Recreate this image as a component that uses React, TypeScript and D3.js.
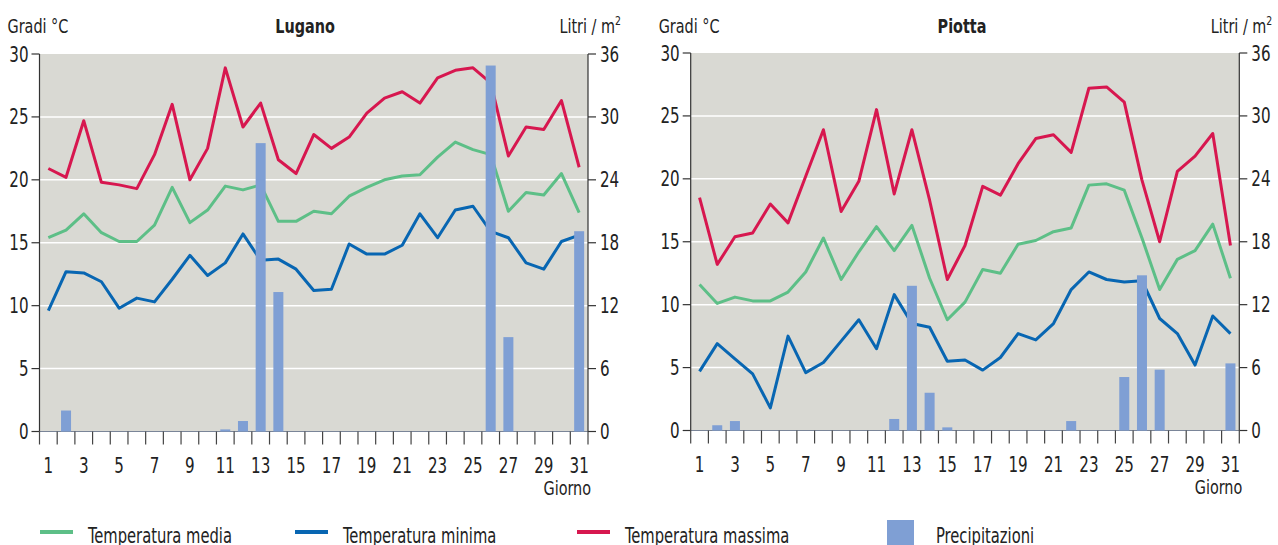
import React from "react";
import * as d3 from "d3";

const days = [1, 2, 3, 4, 5, 6, 7, 8, 9, 10, 11, 12, 13, 14, 15, 16, 17, 18, 19, 20, 21, 22, 23, 24, 25, 26, 27, 28, 29, 30, 31];
const dayLabels = [1, 3, 5, 7, 9, 11, 13, 15, 17, 19, 21, 23, 25, 27, 29, 31];
const tempTicks = [0, 5, 10, 15, 20, 25, 30];
const rainTicks = [0, 6, 12, 18, 24, 30, 36];

const luganoMax = [20.9, 20.2, 24.7, 19.8, 19.6, 19.3, 22.0, 26.0, 20.0, 22.5, 28.9, 24.2, 26.1, 21.6, 20.5, 23.6, 22.5, 23.4, 25.3, 26.5, 27.0, 26.1, 28.1, 28.7, 28.9, 27.7, 21.9, 24.2, 24.0, 26.3, 21.0];
const luganoMean = [15.4, 16.0, 17.3, 15.8, 15.1, 15.1, 16.4, 19.4, 16.6, 17.6, 19.5, 19.2, 19.6, 16.7, 16.7, 17.5, 17.3, 18.7, 19.4, 20.0, 20.3, 20.4, 21.8, 23.0, 22.4, 22.0, 17.5, 19.0, 18.8, 20.5, 17.4];
const luganoMin = [9.6, 12.7, 12.6, 11.9, 9.8, 10.6, 10.3, 12.1, 14.0, 12.4, 13.4, 15.7, 13.6, 13.7, 12.9, 11.2, 11.3, 14.9, 14.1, 14.1, 14.8, 17.3, 15.4, 17.6, 17.9, 15.9, 15.4, 13.4, 12.9, 15.1, 15.6];
const luganoRain = [0, 2.0, 0, 0, 0, 0, 0, 0, 0, 0, 0.2, 1.0, 27.5, 13.3, 0, 0, 0, 0, 0, 0, 0, 0, 0, 0, 0, 34.9, 9.0, 0, 0, 0, 19.1];

const piottaMax = [18.5, 13.2, 15.4, 15.7, 18.0, 16.5, 20.2, 23.9, 17.4, 19.8, 25.5, 18.8, 23.9, 18.3, 12.0, 14.7, 19.4, 18.7, 21.2, 23.2, 23.5, 22.1, 27.2, 27.3, 26.1, 19.9, 15.0, 20.6, 21.8, 23.6, 14.7];
const piottaMean = [11.6, 10.1, 10.6, 10.3, 10.3, 11.0, 12.6, 15.3, 12.0, 14.2, 16.2, 14.3, 16.3, 12.1, 8.8, 10.2, 12.8, 12.5, 14.8, 15.1, 15.8, 16.1, 19.5, 19.6, 19.1, 15.3, 11.2, 13.6, 14.3, 16.4, 12.1];
const piottaMin = [4.7, 6.9, 5.7, 4.5, 1.8, 7.5, 4.6, 5.4, 7.1, 8.8, 6.5, 10.8, 8.5, 8.2, 5.5, 5.6, 4.8, 5.8, 7.7, 7.2, 8.5, 11.2, 12.6, 12.0, 11.8, 11.9, 8.9, 7.7, 5.2, 9.1, 7.7];
const piottaRain = [0, 0.5, 0.9, 0, 0, 0, 0, 0, 0, 0, 0, 1.1, 13.8, 3.6, 0.3, 0, 0, 0, 0, 0, 0, 0.9, 0, 0, 5.1, 14.8, 5.8, 0, 0, 0, 6.4];

const FONT = "'DejaVu Sans Condensed', 'Liberation Sans Narrow', 'Roboto Condensed', sans-serif";
const C_MEAN = "#5dbf87";
const C_MIN = "#0866b2";
const C_MAX = "#d7174f";
const C_BAR = "#7f9fd4";
const C_BG = "#d9d9d3";
const TXT = "#222";
const SX = 0.8;

type TProps = {
  x: number;
  y: number;
  anchor?: "start" | "middle" | "end";
  size: number;
  bold?: boolean;
  dy?: string;
  sx?: number;
  children: React.ReactNode;
};

function T({ x, y, anchor = "start", size, bold, dy, sx = SX, children }: TProps) {
  return (
    <text
      transform={`translate(${x},${y}) scale(${sx},1)`}
      textAnchor={anchor}
      fontSize={size}
      fontWeight={bold ? "bold" : "normal"}
      dy={dy}
      fill={TXT}
    >
      {children}
    </text>
  );
}

type PanelProps = {
  title: string;
  titleX: number;
  x0: number;
  x1: number;
  top: number;
  bottom: number;
  max: number[];
  mean: number[];
  min: number[];
  rain: number[];
};

function Panel({ title, titleX, x0, x1, top, bottom, max, mean, min, rain }: PanelProps) {
  const x = d3.scaleBand<number>().domain(days).range([x0, x1]).padding(0);
  const bw = x.bandwidth();
  const cx = (d: number) => (x(d) as number) + bw / 2;
  const yT = d3.scaleLinear().domain([0, 30]).range([bottom, top]);
  const yR = d3.scaleLinear().domain([0, 36]).range([bottom, top]);
  const line = (vals: number[]) =>
    d3.line<number>().x((_, i) => cx(days[i])).y((v) => yT(v))(vals) || "";
  const boundaries = days.map((d) => x(d) as number).concat([x1]);
  const barW = 10;

  return (
    <g>
      <rect x={x0} y={top} width={x1 - x0} height={bottom - top} fill={C_BG} />
      {tempTicks.filter((t) => t > 0 && t < 30).map((t) => (
        <line key={t} x1={x0} x2={x1} y1={yT(t)} y2={yT(t)} stroke="#fff" strokeWidth={1.5} />
      ))}
      <line x1={x0} x2={x1} y1={bottom} y2={bottom} stroke="#7a8598" strokeWidth={1.2} />
      <path d={line(mean)} fill="none" stroke={C_MEAN} strokeWidth={3} strokeLinejoin="round" />
      <path d={line(min)} fill="none" stroke={C_MIN} strokeWidth={3} strokeLinejoin="round" />
      <path d={line(max)} fill="none" stroke={C_MAX} strokeWidth={3} strokeLinejoin="round" />
      {rain.map((r, i) =>
        r > 0 ? (
          <rect key={i} x={cx(days[i]) - barW / 2} y={yR(r)} width={barW} height={bottom - yR(r)} fill={C_BAR} />
        ) : null
      )}
      {/* left axis */}
      <line x1={x0} x2={x0} y1={top} y2={bottom} stroke="#333" strokeWidth={1.2} />
      {tempTicks.map((t) => (
        <g key={t}>
          <line x1={x0 - 8} x2={x0} y1={yT(t)} y2={yT(t)} stroke="#333" strokeWidth={1.2} />
          <T x={x0 - 11} y={yT(t)} dy="0.36em" anchor="end" size={21}>{t}</T>
        </g>
      ))}
      {/* right axis */}
      <line x1={x1} x2={x1} y1={top} y2={bottom} stroke="#333" strokeWidth={1.2} />
      {rainTicks.map((t) => (
        <g key={t}>
          <line x1={x1} x2={x1 + 8} y1={yR(t)} y2={yR(t)} stroke="#333" strokeWidth={1.2} />
          <T x={x1 + 12} y={yR(t)} dy="0.36em" anchor="start" size={21}>{t}</T>
        </g>
      ))}
      {/* bottom ticks */}
      {boundaries.map((b, i) => (
        <line key={i} x1={b} x2={b} y1={bottom} y2={bottom + 13} stroke="#444" strokeWidth={1.2} />
      ))}
      {dayLabels.map((d) => (
        <T key={d} x={cx(d)} y={bottom + 41} anchor="middle" size={21}>{d}</T>
      ))}
      <T x={x1 + 3} y={bottom + 63} anchor="end" size={20}>Giorno</T>
      {/* headers */}
      <T x={x0 - 32} y={33} anchor="start" size={20}>Gradi °C</T>
      <T x={titleX} y={33} anchor="middle" size={20} bold>{title}</T>
      <T x={x1 + 33} y={33} anchor="end" size={20}>
        Litri / m<tspan fontSize={13} dy={-8}>2</tspan>
      </T>
    </g>
  );
}

const legendItems = [
  { label: "Temperatura media", color: C_MEAN, kind: "line", x: 40 },
  { label: "Temperatura minima", color: C_MIN, kind: "line", x: 295 },
  { label: "Temperatura massima", color: C_MAX, kind: "line", x: 577 },
  { label: "Precipitazioni", color: C_BAR, kind: "rect", x: 887 },
];

export default function App() {
  return (
    <div style={{ position: "absolute", left: 0, top: 0 }}>
      <svg width={1278} height={545} style={{ display: "block", background: "#fff", fontFamily: FONT }}>
        <Panel title="Lugano" titleX={305} x0={39.5} x1={588} top={54} bottom={431.5}
          max={luganoMax} mean={luganoMean} min={luganoMin} rain={luganoRain} />
        <Panel title="Piotta" titleX={962} x0={690.7} x1={1239.3} top={53} bottom={430.5}
          max={piottaMax} mean={piottaMean} min={piottaMin} rain={piottaRain} />
        {legendItems.map((it) =>
          <g key={it.label}>
            {it.kind === "line" ? (
              <line x1={it.x} x2={it.x + 33} y1={532} y2={532} stroke={it.color} strokeWidth={4} />
            ) : (
              <rect x={it.x} y={520} width={27} height={26} fill={it.color} />
            )}
            <T x={it.kind === "line" ? it.x + 48 : it.x + 49} y={542.5} size={20.5}>{it.label}</T>
          </g>
        )}
      </svg>
    </div>
  );
}
